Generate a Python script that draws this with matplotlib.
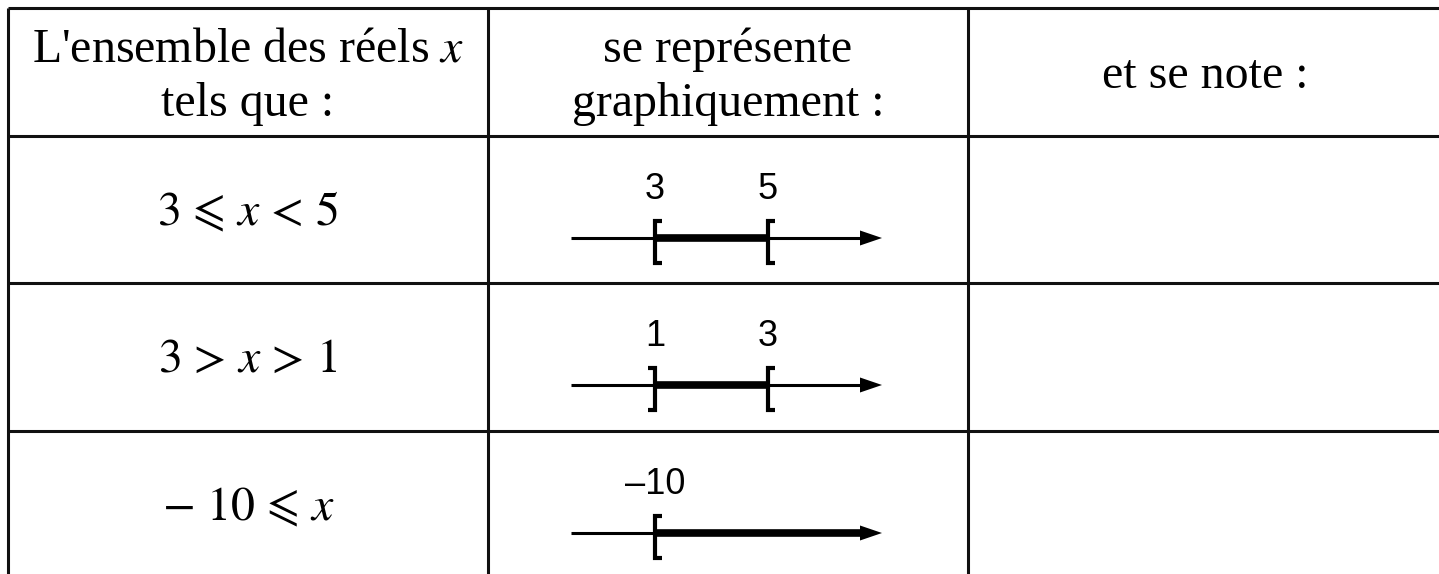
import numpy as np
import matplotlib
matplotlib.use("Agg")
import matplotlib.pyplot as plt

# Table content
header_col1 = ["L'ensemble des réels $x$", "tels que :"]
header_col2 = ["se représente", "graphiquement :"]
header_col3 = ["et se note :"]
inequalities = ["3 \u2a7d $x$ < 5", "3 > $x$ > 1", "\u2212 10 \u2a7d $x$"]

# Number lines: bound labels and bracket glyph for each bound
bound_labels = [["3", "5"], ["1", "3"], ["\u201310"]]
bound_brackets = [["[", "["], ["]", "["], ["["]]

W, H = 1439, 574
plt.rcParams['mathtext.fontset'] = 'stix'
fig = plt.figure(figsize=(W / 100, H / 100), dpi=100)
ax = fig.add_axes([0, 0, 1, 1])
ax.set_xlim(0, W)
ax.set_ylim(H, 0)
ax.axis('off')

# grid geometry (pixels)
col_x = [8, 488, 968]
row_y = [8, 136, 283, 431]
row_h = 147
grid_lw = 2.2
for x in col_x:
    ax.plot([x, x], [row_y[0], H], color='#111111', lw=grid_lw, solid_capstyle='butt')
for y in row_y:
    ax.plot([col_x[0], W], [y, y], color='#111111', lw=grid_lw, solid_capstyle='butt')

serif = ['Liberation Serif', 'STIXGeneral', 'DejaVu Serif']
stix = ['STIXGeneral', 'Liberation Serif', 'DejaVu Serif']
sans = ['Liberation Sans', 'DejaVu Sans']
fs_main = 34.5
c1 = (col_x[0] + col_x[1]) / 2
c2 = (col_x[1] + col_x[2]) / 2
c3 = 1205
kw = dict(ha='center', va='baseline', fontsize=fs_main, family=serif)
ax.text(c1, 62, header_col1[0], **kw)
ax.text(c1, 116, header_col1[1], **kw)
ax.text(c2, 62, header_col2[0], **kw)
ax.text(c2, 116, header_col2[1], **kw)
ax.text(c3, 88, header_col3[0], **kw)

# number line layout
x_start, x_tip = 571, 882
bound_x = [655, 768]
head_len, head_half = 22, 7.5
for i, (text, labels, brackets) in enumerate(zip(inequalities, bound_labels, bound_brackets)):
    top = row_y[i + 1]
    ax.text(c1, top + 89, text, ha='center', va='baseline', fontsize=fs_main, family=stix)

    y = top + 102
    # thin axis line and arrow head
    ax.plot([x_start, x_tip - head_len + 2], [y, y], color='black', lw=2.2, solid_capstyle='butt')
    ax.fill([x_tip - head_len, x_tip, x_tip - head_len],
            [y - head_half, y, y + head_half], color='black', lw=0)
    # thick segment for the interval
    x_end = bound_x[1] if len(labels) == 2 else x_tip - head_len + 2
    ax.plot([bound_x[0], x_end], [y, y], color='black', lw=5.5, solid_capstyle='butt')

    for j, (lab, br) in enumerate(zip(labels, brackets)):
        bx = bound_x[j]
        ax.text(bx, top + 63, lab, ha='center', va='baseline', fontsize=26, family=sans)
        d = 7 if br == '[' else -7
        ax.plot([bx + d, bx, bx, bx + d], [y - 17, y - 17, y + 25, y + 25],
                color='black', lw=3, solid_joinstyle='miter', solid_capstyle='butt')

fig.savefig('out.png', dpi=100, facecolor='white')
